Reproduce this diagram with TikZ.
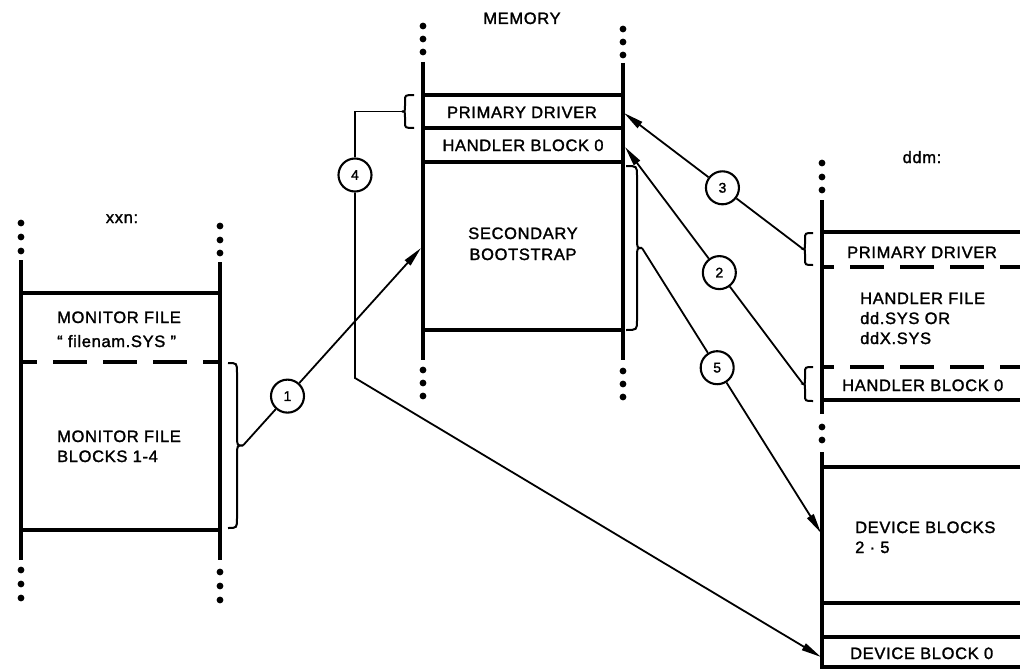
\documentclass[tikz,border=0pt]{standalone}
\usepackage{fontspec}
\newfontfamily\lblfont{Liberation Sans}[LetterSpace=4, FakeBold=1.6]
\usetikzlibrary{arrows.meta,calc}
\newcommand\mybrace[7]{%
 \draw[brc] (#1,#2) .. controls ({#1+#4},{#2}) .. ({#1+#4},{#2+#6})
   -- ({#1+#4},{(#2+#3)/2-#6})
   .. controls ({#1+#4},{(#2+#3)/2}) .. ({#1+#4+#5},{(#2+#3)/2}) coordinate (#7)
   .. controls ({#1+#4},{(#2+#3)/2}) .. ({#1+#4},{(#2+#3)/2+#6})
   -- ({#1+#4},{#3-#6})
   .. controls ({#1+#4},{#3}) .. (#1,#3);}
\begin{document}
\begin{tikzpicture}[x=1pt,y=-1pt,
  col/.style={line width=3.4pt},
  rule/.style={line width=3.1pt},
  dashrule/.style={line width=3.1pt, dash pattern=on 34pt off 16pt},
  conn/.style={line width=1.8pt},
  arr/.style={conn, -{Triangle[length=20pt,width=7.5pt]}},
  brc/.style={line width=2pt},
  num/.style={circle, draw, line width=2.1pt, fill=white, minimum size=33pt, inner sep=0pt, font=\lblfont\fontsize{14}{16}\selectfont},
  lbl/.style={font=\lblfont\fontsize{16.5}{20}\selectfont, inner sep=0pt}
]
\useasboundingbox (0,0) rectangle (1020,669);

% ---------- xxn column ----------
\node[lbl, anchor=base] (xxn) at (122,223) {xxn:};
\foreach \y in {223,237,251} \fill (21,\y) circle[radius=3.4pt];
\foreach \y in {226,240,253} \fill (220,\y) circle[radius=3.4pt];
\foreach \y in {570,584,598} \fill (21,\y) circle[radius=3.4pt];
\foreach \y in {572,586,600} \fill (220,\y) circle[radius=3.4pt];
\draw[col] (21,260) -- (21,560);
\draw[col] (220,262) -- (220,560);
\draw[rule] (21,293) -- (220,293);
\draw[dashrule, dash phase=18pt] (21,362) -- (220,362);
\draw[rule] (21,530) -- (220,530);
\node[lbl, anchor=base west] (mf1) at (57,323) {MONITOR FILE};
\node[lbl, anchor=base west] (mf2) at (57,347) {“ filenam.SYS ”};
\node[lbl, anchor=base west] (mf3) at (57,442) {MONITOR FILE};
\node[lbl, anchor=base west] (mf4) at (57,462) {BLOCKS 1-4};

% ---------- memory column ----------
\node[lbl, anchor=base] (mem) at (522,24) {MEMORY};
\foreach \y in {26,39,52} \fill (423,\y) circle[radius=3.4pt];
\foreach \y in {29,42,55} \fill (623,\y) circle[radius=3.4pt];
\foreach \y in {370,383,396} \fill (423,\y) circle[radius=3.4pt];
\foreach \y in {371,384,397} \fill (623,\y) circle[radius=3.4pt];
\draw[col] (423,62) -- (423,360);
\draw[col] (623,63) -- (623,360);
\draw[rule] (423,95) -- (623,95);
\draw[rule] (423,128) -- (623,128);
\draw[rule] (423,162) -- (623,162);
\draw[rule] (423,330) -- (623,330);
\node[lbl, anchor=base] (mpd) at (522,118) {PRIMARY DRIVER};
\node[lbl, anchor=base] (mhb) at (523,151) {HANDLER BLOCK 0};
\node[lbl, anchor=base] (msb1) at (523,239) {SECONDARY};
\node[lbl, anchor=base] (msb2) at (523,260) {BOOTSTRAP};

% ---------- ddm column ----------
\node[lbl, anchor=base] (ddm) at (922,163) {ddm:};
\foreach \y in {163,177,190} \fill (822,\y) circle[radius=3.4pt];
\foreach \y in {427,440} \fill (822,\y) circle[radius=3.4pt];
\draw[col] (822,200) -- (822,414);
\draw[col] (822,452) -- (822,669);
\draw[rule] (822,232) -- (1020,232);
\draw[dashrule, dash phase=22pt] (822,267) -- (1020,267);
\draw[dashrule, dash phase=22pt] (822,367) -- (1020,367);
\draw[rule] (822,400) -- (1020,400);
\draw[rule] (822,467) -- (1020,467);
\draw[rule] (822,603) -- (1020,603);
\draw[rule] (822,637) -- (1020,637);
\draw[rule] (822,667) -- (1020,667);
\node[lbl, anchor=base west] (dpd) at (847,258) {PRIMARY DRIVER};
\node[lbl, anchor=base west] (dhf1) at (860,304) {HANDLER FILE};
\node[lbl, anchor=base west] (dhf2) at (860,324) {dd.SYS OR};
\node[lbl, anchor=base west] (dhf3) at (860,344) {ddX.SYS};
\node[lbl, anchor=base west] (dhb) at (842,391) {HANDLER BLOCK 0};
\node[lbl, anchor=base west] (ddb1) at (855,533) {DEVICE BLOCKS};
\node[lbl, anchor=base west] (ddb2) at (855,553) {2 · 5};
\node[lbl, anchor=base west] (dd0) at (850,659) {DEVICE BLOCK 0};

% ---------- braces ----------
\mybrace{228}{363}{528}{9}{6}{10}{b1}
\mybrace{414}{95}{128}{-9}{-3}{6}{b2}
\mybrace{626}{166}{330}{11}{5}{10}{b3}
\mybrace{813}{233}{265}{-8}{-2}{6}{b4}
\mybrace{813}{367}{401}{-8}{-2}{6}{b5}

% ---------- arrow targets ----------
\coordinate (t1) at (421,248);
\coordinate (t3) at (624,113);
\coordinate (t2) at (625,147);
\coordinate (t5) at (821,533);
\coordinate (t4) at (821,657);
\coordinate (bend4) at (355,378);

% ---------- numbered circles ----------
\node[num] (n1) at ($(b1)!0.25!(t1)$) {1};
\node[num] (n2) at ($(t2)!0.53!(b5)$) {2};
\node[num] (n3) at ($(t3)!0.55!(b4)$) {3};
\node[num] (n4) at (355,175) {4};
\node[num] (n5) at ($(b3)!0.42!(t5)$) {5};

% ---------- connectors ----------
\draw[conn] (b1) -- (n1);
\draw[arr] (n1) -- (t1);
\draw[conn] (b5) -- (n2);
\draw[arr] (n2) -- (t2);
\draw[conn] (b4) -- (n3);
\draw[arr] (n3) -- (t3);
\draw[conn] (b2) -| (n4);
\draw[arr] (n4) -- (bend4) -- (t4);
\draw[conn] (b3) -- (n5);
\draw[arr] (n5) -- (t5);
\end{tikzpicture}
\end{document}
